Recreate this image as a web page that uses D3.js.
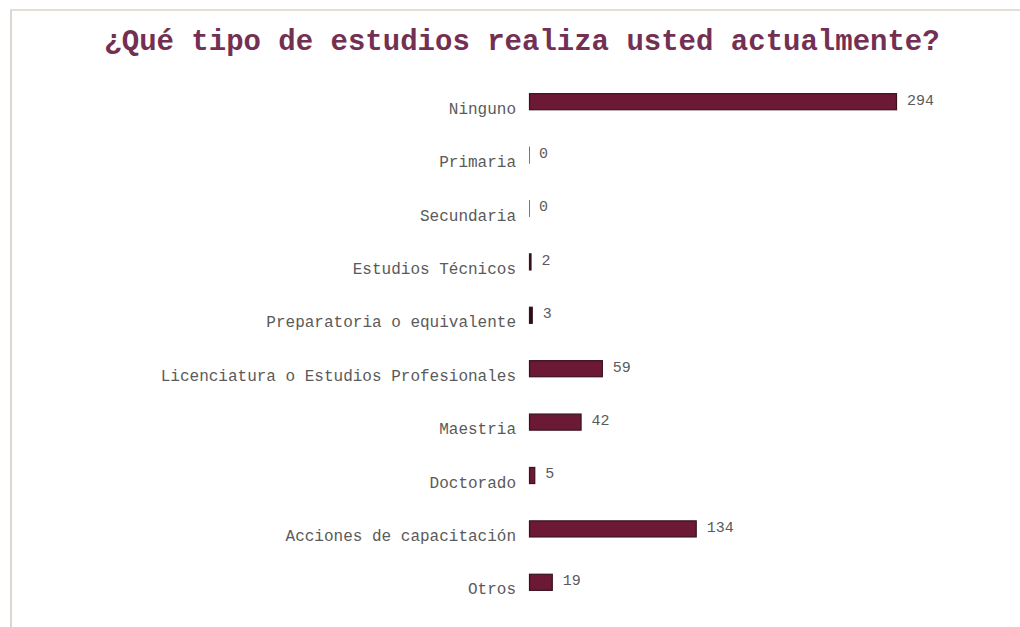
<!DOCTYPE html>
<html>
<head>
<meta charset="utf-8">
<script src="https://cdn.jsdelivr.net/npm/d3@7"></script>
<style>
  html, body { margin: 0; padding: 0; background: #ffffff; }
  svg { display: block; }
</style>
</head>
<body>
<svg id="chart" width="1020" height="627"></svg>
<script>
// Survey responses: current studies
const categories = [
  "Ninguno",
  "Primaria",
  "Secundaria",
  "Estudios Técnicos",
  "Preparatoria o equivalente",
  "Licenciatura o Estudios Profesionales",
  "Maestria",
  "Doctorado",
  "Acciones de capacitación",
  "Otros"
];
const values = [294, 0, 0, 2, 3, 59, 42, 5, 134, 19];
const titleText = "¿Qué tipo de estudios realiza usted actualmente?";

const svg = d3.select("#chart");
const W = 1020, H = 627;

// frame lines (top and left)
svg.append("line")
  .attr("x1", 10).attr("x2", W).attr("y1", 10).attr("y2", 10)
  .attr("stroke", "#e3ddd3").attr("stroke-width", 2);
svg.append("line")
  .attr("x1", 11).attr("x2", 11).attr("y1", 10).attr("y2", H)
  .attr("stroke", "#ddd6d0").attr("stroke-width", 2);

// title
svg.append("text")
  .attr("x", 522).attr("y", 50)
  .attr("text-anchor", "middle")
  .attr("font-family", "'Liberation Mono', 'Courier New', monospace")
  .attr("font-weight", "bold")
  .attr("font-size", 29)
  .attr("fill", "#743052")
  .text(titleText);

const data = categories.map((c, i) => ({ cat: c, val: values[i] }));

const y = d3.scaleBand()
  .domain(categories)
  .range([75, 609])
  .paddingInner(0.68)
  .paddingOuter(0.34);

const x = d3.scaleLinear()
  .domain([0, d3.max(values)])
  .range([529, 897]);

// category axis labels
const yAxis = d3.axisLeft(y).tickSize(0).tickPadding(13);
const gAxis = svg.append("g")
  .attr("transform", `translate(${x(0)},0)`)
  .call(yAxis);
gAxis.select(".domain").remove();
gAxis.selectAll(".tick text")
  .attr("font-family", "'Liberation Mono', 'Courier New', monospace")
  .attr("font-size", 16)
  .attr("fill", "#5a5a5a")
  .attr("dy", "0.75em");

// bars
svg.append("g").selectAll("rect")
  .data(data.filter(d => d.val > 0))
  .join("rect")
  .attr("x", d => x(0) + 0.5)
  .attr("y", d => y(d.cat) + 0.5)
  .attr("width", d => Math.max(1, x(d.val) - x(0) - 1))
  .attr("height", y.bandwidth() - 1)
  .attr("fill", d => d.val < 4 ? "#2a0d18" : "#6b1934")
  .attr("stroke", "#3b1120")
  .attr("stroke-width", 1.2);

// zero-valued categories show only a hairline at the baseline
svg.append("g").selectAll("line")
  .data(data.filter(d => d.val === 0))
  .join("line")
  .attr("x1", x(0) + 0.5).attr("x2", x(0) + 0.5)
  .attr("y1", d => y(d.cat))
  .attr("y2", d => y(d.cat) + y.bandwidth())
  .attr("stroke", "#777")
  .attr("stroke-width", 1);

// value labels
svg.append("g").selectAll("text")
  .data(data)
  .join("text")
  .attr("x", d => x(d.val) + 10)
  .attr("y", d => y(d.cat) + y.bandwidth() / 2 - 2)
  .attr("dy", "0.32em")
  .attr("font-family", "'Liberation Mono', 'Courier New', monospace")
  .attr("font-size", 15)
  .attr("fill", "#5a5a5a")
  .text(d => d.val);
</script>
</body>
</html>
